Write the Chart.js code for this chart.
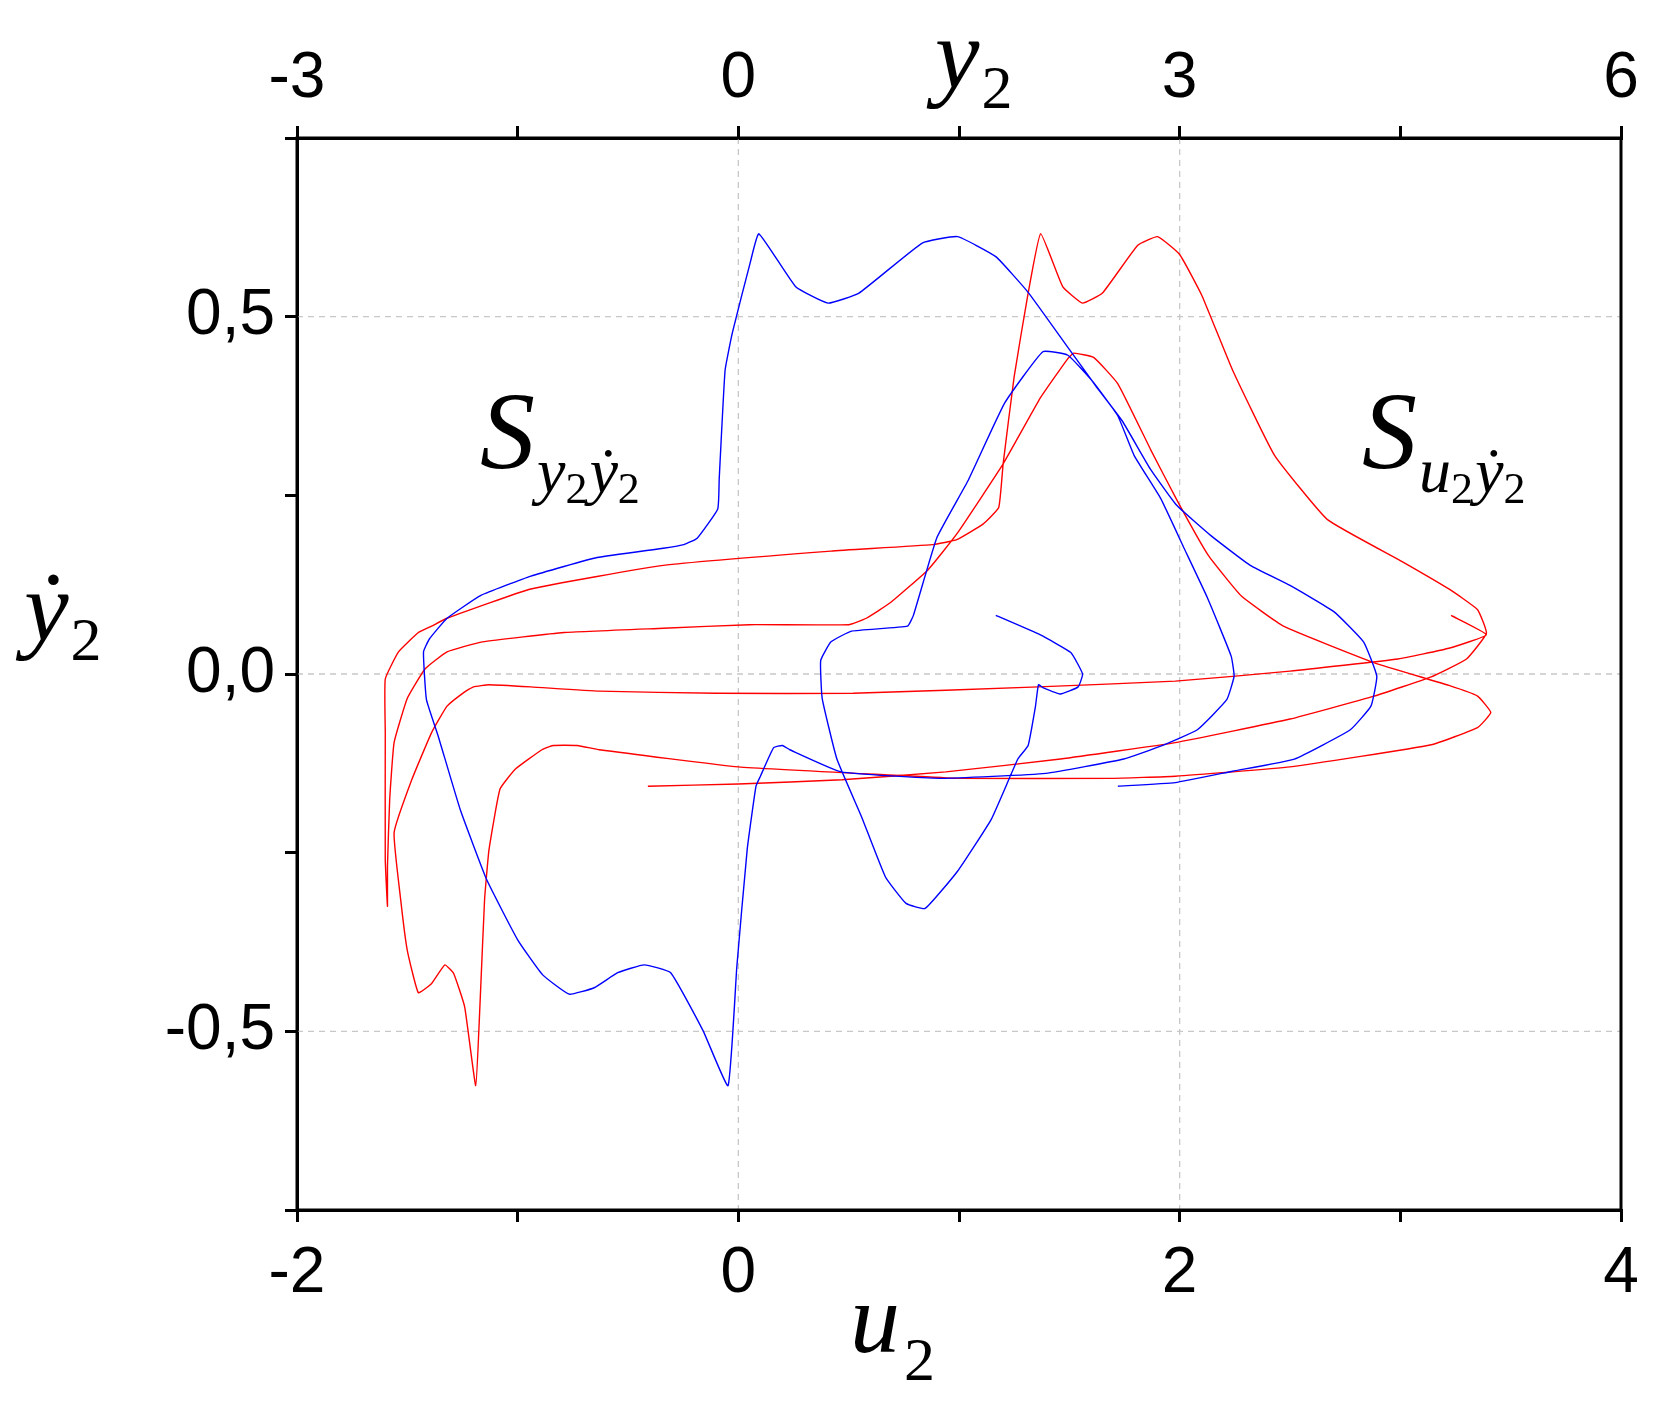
<!DOCTYPE html>
<html><head><meta charset="utf-8">
<script src="https://cdn.jsdelivr.net/npm/chart.js@4.4.1/dist/chart.umd.min.js"></script>
<style>html,body{margin:0;padding:0;background:#fff}#wrap{width:1667px;height:1415px}</style>
</head><body><div id="wrap"><canvas id="c" width="1667" height="1415"></canvas></div>
<script>
// S_{y2 ẏ2}: x = y2 (top axis), y = ẏ2
const blueY2 = [1.75,2.05,2.26,2.34,2.31,2.19,2.07,2.04,2.02,1.97,1.90,1.72,1.49,1.27,1.14,1.00,0.84,0.67,0.57,0.56,0.63,0.77,1.15,1.19,1.35,1.56,1.81,2.07,2.24,2.41,2.58,2.69,2.87,3.03,3.19,3.35,3.37,3.32,3.12,2.87,2.62,2.09,1.37,0.70,0.35,0.30,0.24,0.15,0.12,0.06,-0.01,-0.07,-0.24,-0.46,-0.64,-0.82,-0.98,-1.15,-1.33,-1.50,-1.71,-1.89,-2.04,-2.12,-2.14,-2.10,-1.98,-1.75,-1.41,-0.96,-0.51,-0.37,-0.28,-0.14,-0.13,-0.09,-0.04,0.08,0.14,0.39,0.61,0.82,1.25,1.49,1.75,1.97,2.24,2.43,2.61,2.80,2.98,3.21,3.48,3.75,4.05,4.25,4.34,4.30,4.16,3.78,3.36,2.97,2.58];
const blueDot = [0.082,0.055,0.030,0,-0.018,-0.028,-0.019,-0.015,-0.045,-0.100,-0.119,-0.203,-0.276,-0.328,-0.321,-0.284,-0.201,-0.119,-0.034,0.019,0.045,0.060,0.067,0.082,0.191,0.270,0.379,0.451,0.446,0.409,0.361,0.306,0.246,0.176,0.106,0.025,-0.003,-0.036,-0.078,-0.101,-0.119,-0.139,-0.146,-0.137,-0.106,-0.100,-0.103,-0.143,-0.157,-0.246,-0.409,-0.576,-0.499,-0.418,-0.407,-0.418,-0.439,-0.448,-0.421,-0.372,-0.288,-0.190,-0.087,-0.036,0.031,0.049,0.078,0.110,0.137,0.163,0.176,0.181,0.190,0.231,0.273,0.425,0.478,0.575,0.616,0.542,0.519,0.533,0.603,0.612,0.584,0.534,0.457,0.403,0.354,0.287,0.236,0.194,0.152,0.124,0.087,0.045,-0.003,-0.045,-0.078,-0.119,-0.136,-0.152,-0.157];
// S_{u2 ẏ2}: x = u2 (bottom axis), y = ẏ2
const redU2 = [3.23,3.39,3.22,2.99,2.50,1.98,1.36,0.52,-0.10,-0.63,-0.94,-1.13,-1.20,-1.24,-1.32,-1.39,-1.48,-1.56,-1.53,-1.50,-1.45,-1.39,-1.33,-1.29,-1.24,-1.19,-1.17,-1.15,-1.13,-1.08,-1.01,-0.89,-0.84,-0.73,-0.63,0.00,0.73,0.99,1.69,1.98,2.50,3.14,3.35,3.41,3.35,3.22,2.88,2.47,2.28,2.13,1.99,1.87,1.72,1.61,1.52,1.49,1.37,1.20,0.99,0.86,0.69,0.58,0.50,0.05,-0.34,-0.79,-1.16,-1.32,-1.42,-1.50,-1.56,-1.58,-1.59,-1.59,-1.60,-1.60,-1.60,-1.54,-1.45,-1.39,-1.32,-0.94,-0.34,0.42,0.88,0.99,1.11,1.18,1.20,1.25,1.31,1.37,1.47,1.56,1.65,1.81,1.90,2.00,2.10,2.24,2.43,2.67,3.01,3.22,3.35,3.39,3.30,3.14,2.88,2.50,1.98,1.46,0.94,0.47,0.00,-0.41];
const redDot = [0.082,0.055,0.036,0.021,0.004,-0.010,-0.018,-0.027,-0.027,-0.024,-0.018,-0.015,-0.018,-0.025,-0.045,-0.082,-0.148,-0.222,-0.316,-0.387,-0.446,-0.433,-0.407,-0.419,-0.466,-0.576,-0.457,-0.316,-0.246,-0.161,-0.133,-0.106,-0.100,-0.100,-0.106,-0.130,-0.142,-0.146,-0.146,-0.143,-0.130,-0.099,-0.075,-0.054,-0.031,-0.016,0.016,0.067,0.109,0.166,0.242,0.313,0.406,0.443,0.449,0.440,0.387,0.294,0.196,0.146,0.100,0.078,0.069,0.069,0.064,0.058,0.045,0.031,0.007,-0.034,-0.096,-0.176,-0.269,-0.325,-0.260,-0.082,-0.007,0.031,0.058,0.067,0.078,0.119,0.152,0.172,0.181,0.188,0.210,0.233,0.294,0.416,0.527,0.616,0.542,0.519,0.533,0.600,0.612,0.587,0.530,0.425,0.306,0.216,0.157,0.119,0.090,0.057,0.021,-0.004,-0.031,-0.063,-0.096,-0.119,-0.137,-0.148,-0.154,-0.157];
const bottomTicks = [-2,0,2,4];
const topTicks = [-3,0,3,6];
const leftTicks = [-0.5,0,0.5];

const pts = (xs, ys) => xs.map((x,i)=>({x, y: ys[i]}));
const fmt = v => (Math.round(v*10)/10).toFixed(1).replace('.', ',');

const decor = {
  id:'decor',
  beforeDatasetsDraw(chart){
    const {ctx, chartArea:a, scales} = chart;
    ctx.save();
    ctx.strokeStyle = '#c8c8c8'; ctx.lineWidth = 1.3; ctx.setLineDash([6,5]);
    [0,2].forEach(v=>{const x=scales.x.getPixelForValue(v); ctx.beginPath(); ctx.moveTo(x,a.top); ctx.lineTo(x,a.bottom); ctx.stroke();});
    leftTicks.forEach(v=>{const y=scales.y.getPixelForValue(v); ctx.beginPath(); ctx.moveTo(a.left,y); ctx.lineTo(a.right,y); ctx.stroke();});
    ctx.restore();
  },
  afterDraw(chart){
    const {ctx, chartArea:a} = chart;
    ctx.save();
    ctx.strokeStyle='#000'; ctx.lineWidth=3; ctx.setLineDash([]);
    ctx.strokeRect(a.left, a.top, a.right-a.left, a.bottom-a.top);
    ctx.fillStyle='#000'; ctx.textBaseline='alphabetic'; ctx.textAlign='left';
    const run = (x, parts) => { parts.forEach(p=>{ ctx.font = p[1]; ctx.fillText(p[0], x, p[2]); x += ctx.measureText(p[0]).width + (p[3]||0); }); };
    const it = s => 'italic '+s+'px "Liberation Serif", "Times New Roman", serif';
    const up = s => s+'px "Liberation Serif", "Times New Roman", serif';
    run(935, [['y', it(100), 88, 2], ['2', up(62), 108]]);
    run(850, [['u', it(100), 1352, 4], ['2', up(62), 1380]]);
    run(24, [['ẏ', it(100), 640, 2], ['2', up(62), 660]]);
    run(480, [['S', it(110), 468, 2], ['y', it(64), 492], ['2', up(44), 503, 2], ['ẏ', it(64), 492], ['2', up(44), 503]]);
    run(1362, [['S', it(110), 468, 2], ['u', it(64), 492], ['2', up(44), 503, 2], ['ẏ', it(64), 492], ['2', up(44), 503]]);
    ctx.restore();
  }
};

const tickFont = {family:'"Liberation Sans", Arial, Helvetica, sans-serif', size:64};
new Chart(document.getElementById('c'), {
  type:'scatter',
  data:{datasets:[
    {label:'S_y2', data:pts(blueY2, blueDot), xAxisID:'x2', yAxisID:'y', showLine:true, borderColor:'#0000ff', borderWidth:1.4, pointRadius:0, tension:0.12, fill:false},
    {label:'S_u2', data:pts(redU2, redDot), xAxisID:'x', yAxisID:'y', showLine:true, borderColor:'#ff0000', borderWidth:1.4, pointRadius:0, tension:0.12, fill:false}
  ]},
  plugins:[decor],
  options:{
    responsive:false, animation:false, devicePixelRatio:1,
    layout:{padding:{left:0,right:46,top:0,bottom:0}},
    plugins:{legend:{display:false}, tooltip:{enabled:false}},
    scales:{
      x:{type:'linear', position:'bottom', min:-2, max:4,
        afterBuildTicks:s=>{s.ticks=[-2,-1,0,1,2,3,4].map(v=>({value:v}));},
        ticks:{font:tickFont, color:'#000', padding:14, maxRotation:0, autoSkip:false, callback:v=>bottomTicks.includes(v)?String(v):''},
        grid:{display:true, drawOnChartArea:false, tickLength:12, tickColor:'#000', lineWidth:3},
        border:{display:true, color:'#000', width:3},
        afterFit:s=>{s.height=205;}},
      x2:{type:'linear', position:'top', min:-3, max:6,
        afterBuildTicks:s=>{s.ticks=[-3,-1.5,0,1.5,3,4.5,6].map(v=>({value:v}));},
        ticks:{font:tickFont, color:'#000', padding:8, maxRotation:0, autoSkip:false, callback:v=>topTicks.includes(v)?String(v):''},
        grid:{display:true, drawOnChartArea:false, tickLength:12, tickColor:'#000', lineWidth:3},
        border:{display:true, color:'#000', width:3},
        afterFit:s=>{s.height=138;}},
      y:{type:'linear', min:-0.75, max:0.75,
        afterBuildTicks:s=>{s.ticks=[-0.75,-0.5,-0.25,0,0.25,0.5,0.75].map(v=>({value:v}));},
        ticks:{font:tickFont, color:'#000', padding:10, autoSkip:false, callback:v=>leftTicks.includes(v)?fmt(v):''},
        grid:{display:true, drawOnChartArea:false, tickLength:12, tickColor:'#000', lineWidth:3},
        border:{display:true, color:'#000', width:3},
        afterFit:s=>{s.width=297;}}
    }
  }
});
</script></body></html>
